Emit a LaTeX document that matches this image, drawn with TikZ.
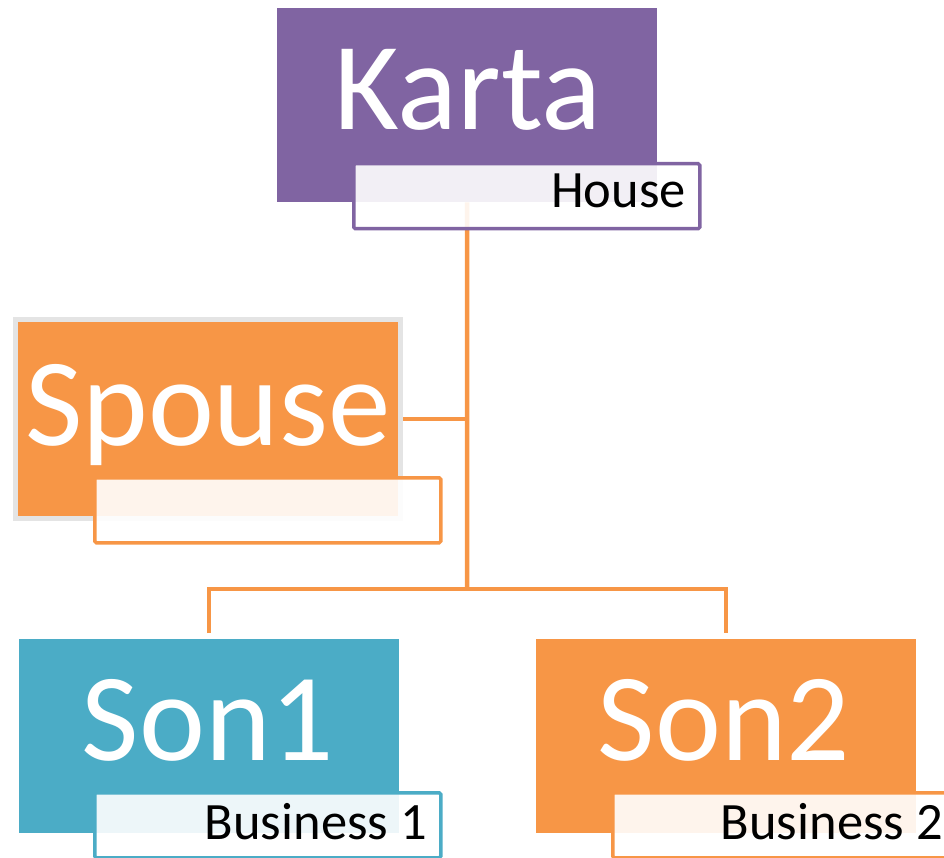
\documentclass[tikz,border=0pt]{standalone}
\usepackage{fontspec}
\setmainfont{Carlito}
\definecolor{kpurple}{HTML}{8064A2}
\definecolor{korange}{HTML}{F79646}
\definecolor{kteal}{HTML}{4BACC6}
\definecolor{kgray}{HTML}{E4E4E4}
\tikzset{
  mainbox/.style={draw=none, fill=#1, inner sep=0pt, minimum width=380pt, minimum height=194pt, anchor=north west},
  subbox/.style={draw=#1, line width=3.5pt, fill=white, fill opacity=0.9, text opacity=1, rounded corners=1.5pt, minimum width=346pt, minimum height=65pt, anchor=north west, inner sep=0pt},
  bigtext/.style={font=\fontsize{125}{125}\selectfont, text=white, anchor=base, inner sep=0pt},
  smalltext/.style={font=\fontsize{52.5}{52.5}\selectfont, text=black, anchor=base east, inner sep=0pt},
  conn/.style={draw=korange, line width=4.5pt}
}
\begin{document}
\begin{tikzpicture}[x=1pt, y=-1pt]
\useasboundingbox (0,0) rectangle (944,858);
% main boxes
\node[mainbox=kpurple] (karta) at (277,8) {};
\node[mainbox=korange] (spouse) at (18,322) {};
\node[mainbox=kteal] (son1) at (19,639) {};
\node[mainbox=korange] (son2) at (536,639) {};
\draw[kgray, line width=5pt] ([shift={(-2.5pt,2.5pt)}]spouse.north west) rectangle ([shift={(2.5pt,-2.5pt)}]spouse.south east);
% connectors
\coordinate (jn) at (467,589);
\draw[conn] (karta.south) -- (jn);
\draw[conn] ([xshift=5pt]spouse.east) -- (spouse.east -| jn);
\draw[conn] ([yshift=6pt]son1.north) |- (jn) -| ([yshift=6pt]son2.north);
% titles
\node[bigtext] (kartaT) at (468,130) {Karta};
\node[bigtext] (spouseT) at (208,445) {Spouse};
\node[bigtext] (son1T) at (208,760) {Son1};
\node[bigtext] (son2T) at (724,760) {Son2};
% sub boxes
\node[subbox=kpurple] (house) at (352,162) {};
\node[subbox=korange] (spouseS) at (93,476) {};
\node[subbox=kteal] (bus1) at (93,791) {};
\node[subbox=korange] (bus2) at (611,791) {};
\node[smalltext] (houseT) at (686,208) {House};
\node[smalltext] (bus1T) at (427,839) {Business 1};
\node[smalltext] (bus2T) at (943,839) {Business 2};
\end{tikzpicture}
\end{document}
